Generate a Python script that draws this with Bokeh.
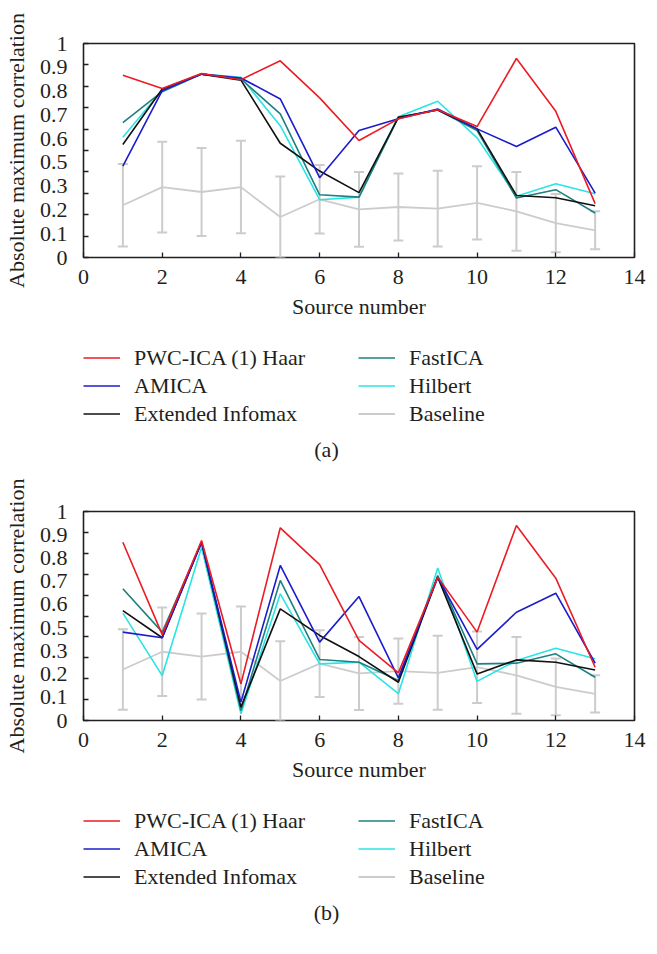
import numpy as np
from bokeh.plotting import figure
from bokeh.models import (ColumnDataSource, Whisker, TeeHead, Legend, LegendItem,
                          FixedTicker, Label, Range1d)
from bokeh.layouts import column
from bokeh.embed import file_html
from bokeh.resources import INLINE

source_number = list(range(1, 14))
series_names = ["PWC-ICA (1) Haar", "AMICA", "Extended Infomax", "FastICA", "Hilbert", "Baseline"]

# Panel (a)
a_pwc = [0.852, 0.790, 0.860, 0.831, 0.919, 0.746, 0.547, 0.648, 0.690, 0.612, 0.930, 0.683, 0.252]
a_amica = [0.427, 0.780, 0.857, 0.839, 0.741, 0.373, 0.593, 0.648, 0.694, 0.601, 0.519, 0.609, 0.301]
a_infomax = [0.528, 0.787, 0.857, 0.829, 0.534, 0.404, 0.303, 0.655, 0.689, 0.601, 0.290, 0.279, 0.242]
a_fastica = [0.630, 0.775, 0.857, 0.834, 0.671, 0.293, 0.282, 0.655, 0.689, 0.593, 0.278, 0.317, 0.208]
a_hilbert = [0.562, 0.783, 0.857, 0.842, 0.616, 0.270, 0.282, 0.658, 0.730, 0.559, 0.286, 0.345, 0.298]

# Panel (b)
b_pwc = [0.853, 0.411, 0.861, 0.175, 0.922, 0.746, 0.383, 0.228, 0.686, 0.423, 0.933, 0.681, 0.255]
b_amica = [0.423, 0.396, 0.853, 0.088, 0.742, 0.375, 0.593, 0.204, 0.686, 0.340, 0.518, 0.609, 0.274]
b_infomax = [0.526, 0.396, 0.853, 0.064, 0.534, 0.407, 0.306, 0.183, 0.686, 0.223, 0.290, 0.279, 0.242]
b_fastica = [0.630, 0.423, 0.853, 0.048, 0.670, 0.292, 0.279, 0.191, 0.694, 0.271, 0.274, 0.319, 0.207]
b_hilbert = [0.514, 0.215, 0.829, 0.032, 0.606, 0.271, 0.279, 0.128, 0.730, 0.187, 0.287, 0.346, 0.295]

# Baseline (same in both panels): mean and error-bar half-length
baseline_mean = [0.244, 0.329, 0.306, 0.329, 0.189, 0.272, 0.225, 0.236, 0.228, 0.255, 0.216, 0.161, 0.127]
baseline_err = [0.193, 0.212, 0.206, 0.216, 0.190, 0.160, 0.175, 0.156, 0.177, 0.171, 0.184, 0.136, 0.089]

x_tick_values = [0, 2, 4, 6, 8, 10, 12, 14]
y_tick_labels = ["0", "0.1", "0.2", "0.3", "0.5", "0.6", "0.7", "0.8", "0.9", "1"]
y_minor_ticks = [0.0, 0.1, 0.2, 0.3, 0.4, 0.5, 0.6, 0.7, 0.8, 0.9, 1.0]

COLORS = {
    "PWC-ICA (1) Haar": "#ec1c24",
    "AMICA": "#1c1ccc",
    "Extended Infomax": "#111111",
    "FastICA": "#1e8080",
    "Hilbert": "#2ae4e4",
    "Baseline": "#cccccc",
}
WIDTHS = {"PWC-ICA (1) Haar": 1.6, "AMICA": 1.6, "Extended Infomax": 1.6,
          "FastICA": 1.6, "Hilbert": 1.6, "Baseline": 1.8}
FONT = "Liberation Serif"
FS = "22px"
TEXT_COLOR = "#231f20"
FRAME_W = 551
LEG_H = 133


def make_plot(series, frame_h, border_top):
    p = figure(output_backend="svg", toolbar_location=None,
               frame_width=FRAME_W, frame_height=frame_h,
               min_border_left=75, min_border_right=23,
               min_border_top=border_top, min_border_bottom=80,
               x_range=Range1d(0, 14), y_range=Range1d(0, 1))
    p.background_fill_color = "white"
    p.border_fill_color = "white"
    p.outline_line_color = TEXT_COLOR
    p.outline_line_width = 1.6
    p.grid.visible = False

    ytick_pos = list(np.linspace(0, 1, len(y_tick_labels)))
    p.yaxis.ticker = FixedTicker(ticks=ytick_pos, minor_ticks=y_minor_ticks)
    p.yaxis.major_label_overrides = {float(v): t for v, t in zip(ytick_pos, y_tick_labels)}
    p.xaxis.ticker = FixedTicker(ticks=x_tick_values, minor_ticks=[])

    for ax in (p.xaxis[0], p.yaxis[0]):
        ax.axis_line_color = None
        ax.major_label_text_font = FONT
        ax.major_label_text_font_size = FS
        ax.major_label_text_color = TEXT_COLOR
        ax.axis_label_text_font = FONT
        ax.axis_label_text_font_size = FS
        ax.axis_label_text_font_style = "normal"
        ax.axis_label_text_color = TEXT_COLOR
    p.xaxis.major_tick_in = 5
    p.xaxis.major_tick_out = 0
    p.xaxis.major_tick_line_color = TEXT_COLOR
    p.xaxis.major_tick_line_width = 1.3
    p.xaxis.major_label_standoff = 12
    p.xaxis.axis_label = "Source number"
    p.xaxis.axis_label_standoff = 7

    p.yaxis.major_tick_line_color = None
    p.yaxis.minor_tick_in = 5
    p.yaxis.minor_tick_out = 0
    p.yaxis.minor_tick_line_color = TEXT_COLOR
    p.yaxis.minor_tick_line_width = 1.3
    p.yaxis.major_label_standoff = 10
    p.yaxis.axis_label = "Absolute maximum correlation"
    p.yaxis.axis_label_standoff = 8

    # Baseline with error bars
    lower = [m - e for m, e in zip(baseline_mean, baseline_err)]
    upper = [m + e for m, e in zip(baseline_mean, baseline_err)]
    src = ColumnDataSource(dict(x=source_number, lower=lower, upper=upper))
    gray = COLORS["Baseline"]
    whisk = Whisker(source=src, base="x", lower="lower", upper="upper",
                    line_color=gray, line_width=2,
                    lower_head=TeeHead(size=10, line_color=gray, line_width=2),
                    upper_head=TeeHead(size=10, line_color=gray, line_width=2))
    p.add_layout(whisk)
    p.line(source_number, baseline_mean, line_color=gray, line_width=WIDTHS["Baseline"])

    for name in ["Hilbert", "FastICA", "Extended Infomax", "AMICA", "PWC-ICA (1) Haar"]:
        p.line(source_number, series[name], line_color=COLORS[name], line_width=WIDTHS[name])
    return p


def make_legend_fig(caption):
    q = figure(output_backend="svg", toolbar_location=None,
               frame_width=FRAME_W, frame_height=LEG_H,
               min_border_left=75, min_border_right=23,
               min_border_top=0, min_border_bottom=0,
               x_axis_location=None, y_axis_location=None,
               x_range=Range1d(0, FRAME_W), y_range=Range1d(0, LEG_H))
    q.outline_line_color = None
    q.grid.visible = False
    q.background_fill_color = "white"
    q.border_fill_color = "white"
    items = []
    for name in series_names:
        # key-only renderer: a single missing point, so nothing is drawn in the frame
        r = q.line(x=np.array([np.nan]), y=np.array([np.nan]),
                   line_color=COLORS[name], line_width=WIDTHS[name])
        items.append(LegendItem(label=name, renderers=[r]))
    legend = Legend(items=items, ncols=2, location=(0, 43),
                    margin=0, padding=0, spacing=1,
                    glyph_width=37, glyph_height=27, label_height=27,
                    label_width=223, label_standoff=14,
                    label_text_font=FONT, label_text_font_size=FS,
                    label_text_color=TEXT_COLOR,
                    border_line_color=None, background_fill_alpha=0)
    q.add_layout(legend, "center")
    q.add_layout(Label(x=243, y=21, text=caption, text_align="center",
                       text_baseline="middle", text_font=FONT, text_font_size=FS,
                       text_color=TEXT_COLOR))
    return q


series_a = {"PWC-ICA (1) Haar": a_pwc, "AMICA": a_amica, "Extended Infomax": a_infomax,
            "FastICA": a_fastica, "Hilbert": a_hilbert}
series_b = {"PWC-ICA (1) Haar": b_pwc, "AMICA": b_amica, "Extended Infomax": b_infomax,
            "FastICA": b_fastica, "Hilbert": b_hilbert}

pa = make_plot(series_a, 214, 43)
la = make_legend_fig("(a)")
pb = make_plot(series_b, 209, 41)
lb = make_legend_fig("(b)")

layout = column(pa, la, pb, lb, spacing=0)
open("out.html", "w").write(file_html(layout, INLINE))
